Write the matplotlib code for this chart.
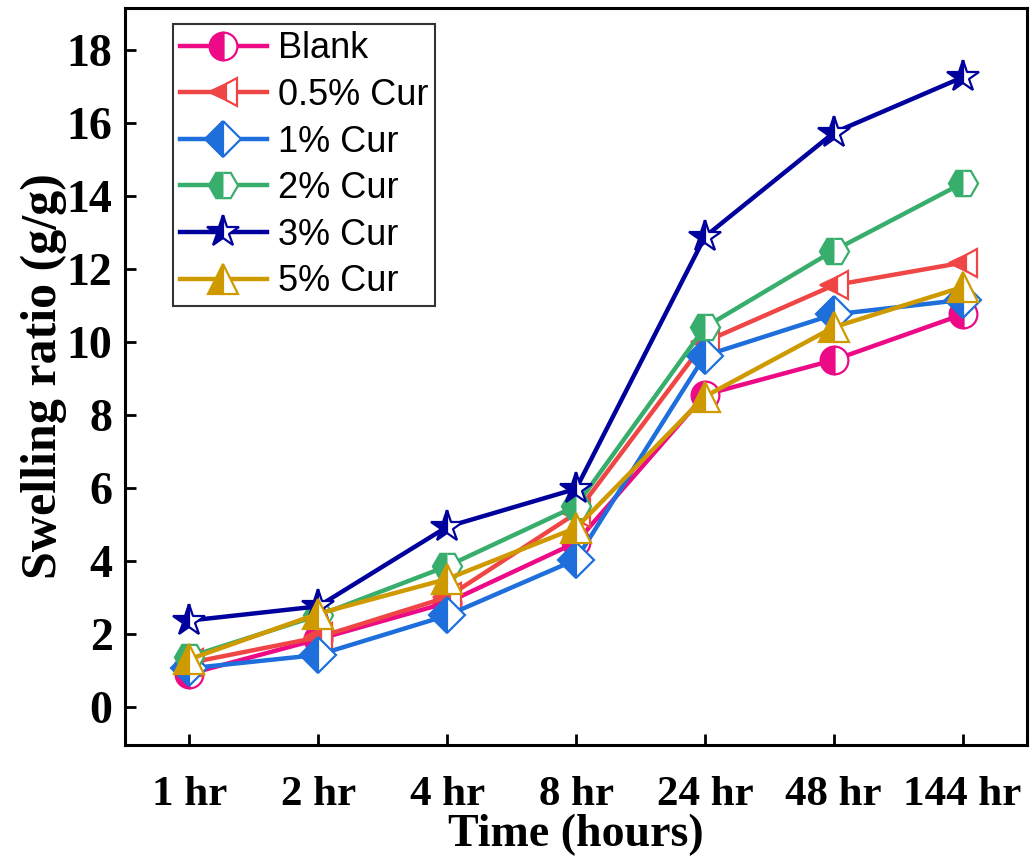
import matplotlib
matplotlib.use("Agg")
import matplotlib.pyplot as plt
import numpy as np

categories = ["1 hr", "2 hr", "4 hr", "8 hr", "24 hr", "48 hr", "144 hr"]
blank = [0.9, 1.85, 2.85, 4.5, 8.55, 9.5, 10.75]
cur_05 = [1.2, 1.9, 3.0, 5.3, 10.0, 11.55, 12.17]
cur_1 = [1.05, 1.42, 2.5, 4.03, 9.62, 10.75, 11.15]
cur_2 = [1.37, 2.5, 3.85, 5.5, 10.4, 12.5, 14.35]
cur_3 = [2.36, 2.75, 4.93, 5.97, 12.88, 15.73, 17.25]
cur_5 = [1.3, 2.55, 3.5, 4.9, 8.5, 10.4, 11.5]

labels = ["Blank", "0.5% Cur", "1% Cur", "2% Cur", "3% Cur", "5% Cur"]
series = [blank, cur_05, cur_1, cur_2, cur_3, cur_5]
colors = ["#EC0A86", "#F04545", "#1E6FDC", "#38AE6C", "#00009C", "#CF9A00"]
markers = ["o", "<", "D", "H", "*", "^"]
msizes = [20, 20, 18, 21, 24, 21]

fig = plt.figure(figsize=(10.35, 8.56), dpi=100)
ax = fig.add_axes([0.1208, 0.1297, 0.8715, 0.861])

x = np.arange(len(categories))
for ys, lab, c, m, ms in zip(series, labels, colors, markers, msizes):
    ax.plot(x, ys, color=c, lw=3.2, marker=m, markersize=ms, fillstyle="left",
            markerfacecolor=c, markerfacecoloralt="white", markeredgecolor=c,
            markeredgewidth=1.6, label=lab)

ax.set_xlim(-0.5, 6.5)
ax.set_ylim(-1.05, 19.15)
ax.set_xticks(x)
ax.set_xticklabels(categories)
ax.set_yticks(np.arange(0, 19, 2))

for s in ax.spines.values():
    s.set_linewidth(2.2)
ax.tick_params(axis="both", direction="in", length=8, width=2)
ax.tick_params(axis="x", pad=22)
ax.tick_params(axis="y", pad=9)
for t in ax.get_xticklabels():
    t.set_fontfamily("Liberation Serif"); t.set_fontweight("bold"); t.set_fontsize(31)
for t in ax.get_yticklabels():
    t.set_fontfamily("Liberation Serif"); t.set_fontweight("bold"); t.set_fontsize(33)

ax.set_xlabel("Time (hours)", fontfamily="Liberation Serif", fontweight="bold",
              fontsize=33, labelpad=0)
ax.set_ylabel("Swelling ratio (g/g)", fontfamily="Liberation Serif", fontweight="bold",
              fontsize=36, labelpad=0)

leg = ax.legend(loc="upper left", bbox_to_anchor=(0.053, 0.978), numpoints=1,
                prop={"family": "Liberation Sans", "size": 26}, frameon=True,
                fancybox=False, edgecolor="black", handlelength=2.4,
                handletextpad=0.3, labelspacing=0.32, borderpad=0.2,
                borderaxespad=0.0)
leg.get_frame().set_linewidth(1.5)

fig.savefig("out.png", dpi=100)
